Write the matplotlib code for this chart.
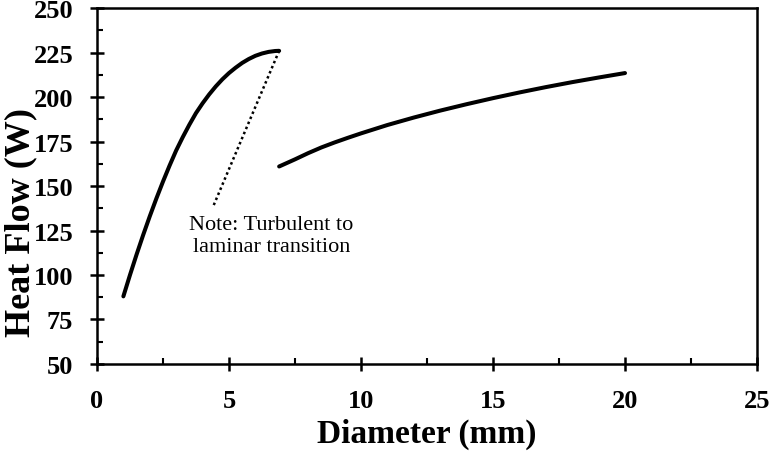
import numpy as np
import matplotlib.pyplot as plt
from matplotlib.ticker import MultipleLocator

plt.rcParams['font.family'] = ['Liberation Serif', 'DejaVu Serif']

# turbulent branch
d_turb = [1.0, 1.25, 1.5, 1.75, 2.0, 2.25, 2.5, 2.75, 3.0, 3.25, 3.5, 3.75, 4.0,
          4.25, 4.5, 4.75, 5.0, 5.25, 5.5, 5.75, 6.0, 6.25, 6.5, 6.75, 6.9]
q_turb = [88, 100, 111.5, 122.5, 133, 143, 152.5, 161.5, 170, 177.5, 184.5, 191, 196.5,
          201.5, 206, 210, 213.5, 216.5, 219.2, 221.4, 223.2, 224.5, 225.4, 225.9, 226]

# laminar branch
d_lam = [6.9, 7.5, 8, 8.5, 9, 9.5, 10, 11, 12, 13, 14, 15, 16, 17, 18, 19, 20]
q_lam = [161, 165, 168.5, 171.7, 174.5, 177.1, 179.6, 184.3, 188.5, 192.4, 196,
         199.4, 202.6, 205.6, 208.4, 211, 213.5]

# transition guide line
d_note = [6.9, 4.4]
q_note = [226, 138.5]

fig = plt.figure(figsize=(7.72, 4.56), dpi=100)
ax = fig.add_axes([0.1256, 0.1996, 0.855, 0.7804])

ax.plot(d_turb, q_turb, color='black', lw=2.9, solid_capstyle='round')
ax.plot(d_lam, q_lam, color='black', lw=2.9, solid_capstyle='round')
ax.plot(d_note, q_note, color='black', lw=1.8, linestyle=(0, (1, 1.2)))

ax.text(6.6, 122, 'Note: Turbulent to\nlaminar transition', ha='center', va='center',
        fontsize=16, linespacing=1.2)

ax.set_xlim(0, 25)
ax.set_ylim(50, 250)
ax.xaxis.set_major_locator(MultipleLocator(5))
ax.xaxis.set_minor_locator(MultipleLocator(2.5))
ax.yaxis.set_major_locator(MultipleLocator(25))
ax.yaxis.set_minor_locator(MultipleLocator(12.5))

ax.tick_params(which='major', direction='inout', length=10, width=1.8, labelsize=19)
ax.tick_params(axis='x', which='major', pad=13)
ax.tick_params(axis='y', which='major', pad=12)
ax.tick_params(which='minor', direction='in', length=4.5, width=1.5)
for lab in ax.get_xticklabels() + ax.get_yticklabels():
    lab.set_fontweight('bold')

for s in ax.spines.values():
    s.set_linewidth(1.8)

ax.set_xlabel('Diameter (mm)', fontsize=24, fontweight='bold')
ax.set_ylabel('Heat Flow (W)', fontsize=26, fontweight='bold', va='center')
ax.xaxis.set_label_coords(0.5, -0.15)
ax.yaxis.set_label_coords(-0.116, 0.40)

fig.savefig('out.png', dpi=100)
